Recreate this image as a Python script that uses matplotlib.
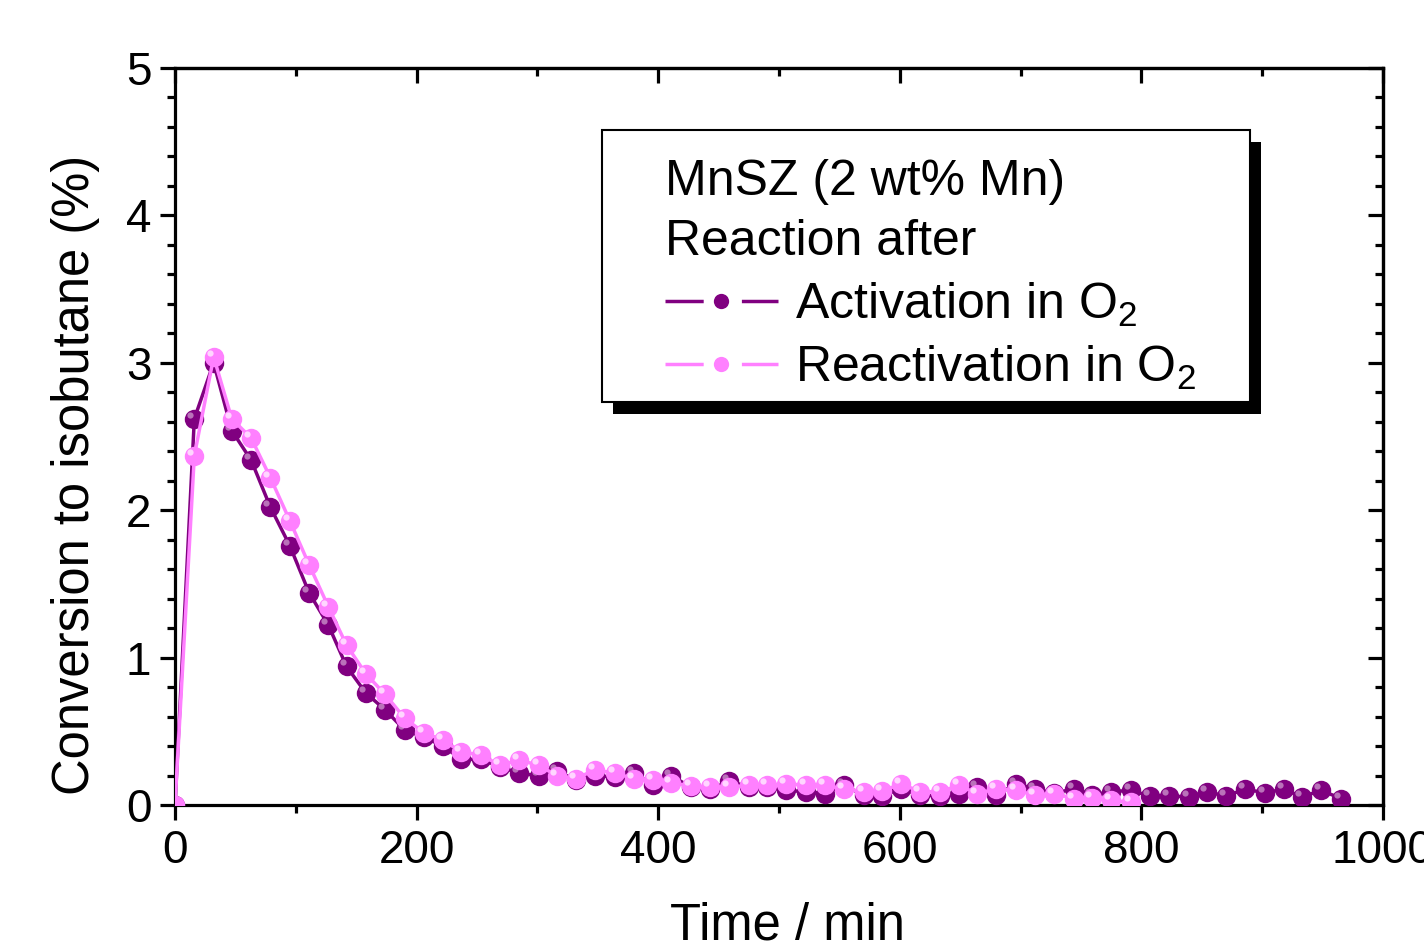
import matplotlib.pyplot as plt
from matplotlib.lines import Line2D
from matplotlib.patches import Rectangle
from matplotlib.ticker import MultipleLocator
from matplotlib.transforms import offset_copy

plt.rcParams['font.family'] = ['Liberation Sans', 'DejaVu Sans']
plt.rcParams['mathtext.fontset'] = 'custom'
plt.rcParams['mathtext.rm'] = 'Liberation Sans'
plt.rcParams['mathtext.it'] = 'Liberation Sans:italic'

# temps de prise de mesure (min)
time_min = [0, 16, 32, 47, 63, 79, 95, 111, 127, 142, 158, 174, 190, 206, 222, 237,
            253, 269, 285, 301, 316, 332, 348, 364, 380, 396, 411, 427, 443, 459, 475,
            490, 506, 522, 538, 554, 570, 585, 601, 617, 633, 649, 664, 680, 696, 712,
            728, 744, 759, 775, 791, 807, 823, 839, 854, 870, 886, 902, 918, 933, 949, 965]

# conversion (%) - activation O2
act_conv = [0.0, 2.62, 3.00, 2.54, 2.34, 2.02, 1.76, 1.44, 1.22, 0.94, 0.76, 0.645,
            0.51, 0.46, 0.40, 0.31, 0.31, 0.26, 0.215, 0.20, 0.23, 0.17, 0.20, 0.19,
            0.22, 0.135, 0.20, 0.12, 0.11, 0.16, 0.125, 0.12, 0.10,
            0.09, 0.078, 0.133, 0.067, 0.062, 0.11, 0.067, 0.062, 0.078, 0.122, 0.067,
            0.144, 0.11, 0.08, 0.11, 0.07, 0.09, 0.10, 0.062, 0.062, 0.055, 0.09, 0.062,
            0.107, 0.084, 0.107, 0.055, 0.10, 0.044]

# conversion (%) - reactivation O2
react_conv = [0.0, 2.37, 3.04, 2.62, 2.49, 2.22, 1.93, 1.63, 1.345, 1.085, 0.89, 0.75,
              0.59, 0.49, 0.44, 0.36, 0.34, 0.27, 0.305, 0.27, 0.20, 0.18, 0.24, 0.215,
              0.18, 0.17, 0.15, 0.13, 0.12, 0.12, 0.135, 0.135, 0.14,
              0.138, 0.133, 0.11, 0.09, 0.093, 0.144, 0.09, 0.09, 0.133, 0.078, 0.11,
              0.10, 0.067, 0.078, 0.044, 0.049, 0.033, 0.018]

dark = '#800080'
dark_hi = '#c98fc9'
pink = '#ff80ff'
pink_hi = '#ffe0ff'

fig = plt.figure(figsize=(14.24, 9.43), dpi=100)
ax = fig.add_axes([0.1229, 0.1463, 0.8483, 0.7816])

# reflet des billes (decale en haut a gauche)
hi_trans = offset_copy(ax.transData, fig=fig, x=-4, y=4, units='dots')

t_act = time_min[:len(act_conv)]
t_react = time_min[:len(react_conv)]

ax.plot(t_act, act_conv, '-', color=dark, lw=2.5, marker='o', ms=14,
        mfc=dark, mec=dark, mew=0, zorder=3)
ax.plot(t_act, act_conv, 'o', color=dark_hi, ms=4.5, mew=0, alpha=0.8,
        transform=hi_trans, zorder=3.1)
ax.plot(t_react, react_conv, '-', color=pink, lw=2.5, marker='o', ms=14,
        mfc=pink, mec=pink, mew=0, zorder=4)
ax.plot(t_react, react_conv, 'o', color=pink_hi, ms=4.5, mew=0, alpha=0.9,
        transform=hi_trans, zorder=4.1)

ax.set_xlim(0, 1000)
ax.set_ylim(0, 5)
ax.xaxis.set_major_locator(MultipleLocator(200))
ax.xaxis.set_minor_locator(MultipleLocator(100))
ax.yaxis.set_major_locator(MultipleLocator(1))
ax.yaxis.set_minor_locator(MultipleLocator(0.2))

for s in ax.spines.values():
    s.set_linewidth(2.3)
ax.tick_params(which='both', width=2.3, labelsize=33)
ax.tick_params(which='major', length=11, pad=6)
ax.tick_params(which='minor', length=6)
ax.tick_params(which='both', direction='out', top=False, right=False)

# graduations internes en haut et a droite
axt = ax.secondary_xaxis('top')
axt.xaxis.set_major_locator(MultipleLocator(200))
axt.xaxis.set_minor_locator(MultipleLocator(100))
axt.tick_params(which='both', direction='in', width=2.3, labeltop=False)
axt.tick_params(which='major', length=11)
axt.tick_params(which='minor', length=6)
axr = ax.secondary_yaxis('right')
axr.yaxis.set_major_locator(MultipleLocator(1))
axr.yaxis.set_minor_locator(MultipleLocator(0.2))
axr.tick_params(which='both', direction='in', width=2.3, labelright=False)
axr.tick_params(which='major', length=11)
axr.tick_params(which='minor', length=6)
for sa in (axt, axr):
    for s in sa.spines.values():
        s.set_linewidth(2.3)

ax.set_xlabel('Time / min', fontsize=36.5)
ax.set_ylabel('Conversion to isobutane (%)', fontsize=36.5)
ax.xaxis.set_label_coords(0.5066, -0.131)
ax.yaxis.set_label_coords(-0.062, 0.448)

# cadre de la legende avec ombre noire
ax.add_patch(Rectangle((0.3626, 0.5307), 0.5364, 0.369, transform=ax.transAxes,
                       fc='black', ec='none', zorder=6))
ax.add_patch(Rectangle((0.3535, 0.547), 0.5364, 0.369, transform=ax.transAxes,
                       fc='white', ec='black', lw=1.5, zorder=6.1))

h_act = Line2D([], [], color=dark, lw=2.5, dashes=(11, 11), marker='o', ms=11,
               mfc=dark, mec=dark, mew=0)
h_react = Line2D([], [], color=pink, lw=2.5, dashes=(11, 11), marker='o', ms=11,
                 mfc=pink, mec=pink, mew=0)
leg = ax.legend([h_act, h_react], ['Activation in O$_2$', 'Reactivation in O$_2$'],
                title='MnSZ (2 wt% Mn)\nReaction after', title_fontsize=36,
                alignment='left', fontsize=36, loc='upper left',
                bbox_to_anchor=(0.4056, 0.877), borderaxespad=0,
                handlelength=2.26, handletextpad=0.34, labelspacing=0.3,
                borderpad=0, numpoints=1, frameon=False)
leg.get_title().set_linespacing(1.41)
leg.set_zorder(7)

fig.savefig('out.png', dpi=100)
